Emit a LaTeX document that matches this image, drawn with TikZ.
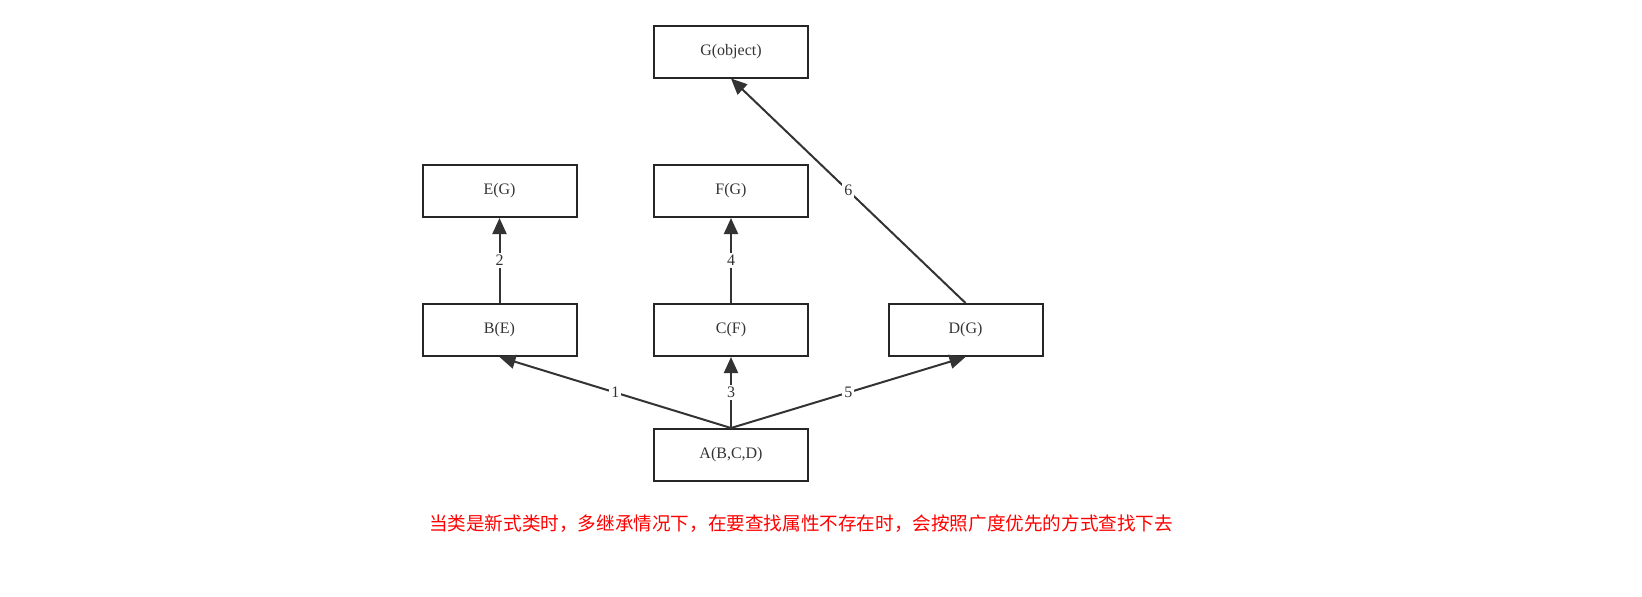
\documentclass[tikz,border=0pt]{standalone}
\usepackage{fontspec}
\setmainfont{Liberation Serif}
\newfontfamily\cjk{Noto Sans CJK SC}
\usetikzlibrary{arrows.meta}
\begin{document}
\begin{tikzpicture}[x=0.5pt,y=-0.5pt,
  box/.style={draw=black!85,line width=1pt,minimum width=77pt,minimum height=26pt,inner sep=0pt,font=\fontsize{8}{9}\selectfont,text=black!80},
  arr/.style={draw=black!80,line width=1pt,-{Triangle[length=8pt,width=7pt]}},
  lab/.style={fill=white,inner sep=1pt,font=\fontsize{8}{9}\selectfont,text=black!80}]
\useasboundingbox (0,0) rectangle (1642,596);
\node[box] (G) at (731,51.5) {G(object)};
\node[box] (E) at (499.5,191) {E(G)};
\node[box] (F) at (731,191) {F(G)};
\node[box] (B) at (499.5,330) {B(E)};
\node[box] (C) at (731,330) {C(F)};
\node[box] (D) at (965.5,330) {D(G)};
\node[box] (A) at (731,455) {A(B,C,D)};
\draw[arr] (A.north) -- node[lab,pos=0.5]{1} (B.south);
\draw[arr] (A.north) -- node[lab,pos=0.5]{3} (C.south);
\draw[arr] (A.north) -- node[lab,pos=0.5]{5} (D.south);
\draw[arr] (B.north) -- node[lab]{2} (E.south);
\draw[arr] (C.north) -- node[lab]{4} (F.south);
\draw[arr] (D.north) -- node[lab,pos=0.5]{6} (G.south);
\node[font=\cjk\fontsize{9.3}{10}\selectfont,text=red] (T) at (801,524) {当类是新式类时，多继承情况下，在要查找属性不存在时，会按照广度优先的方式查找下去};
\end{tikzpicture}
\end{document}
